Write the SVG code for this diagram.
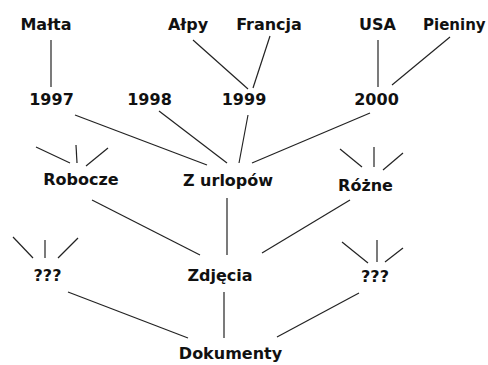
<svg xmlns="http://www.w3.org/2000/svg" width="488" height="365" viewBox="0 0 488 365">
<style>
text{font-family:"DejaVu Sans",Verdana,sans-serif;font-weight:bold;font-size:16px;fill:#111;text-anchor:middle}
.c line{stroke:#222;stroke-width:1.2}
</style>
<rect width="488" height="365" fill="#fff"/>
<g class="c" id="connectors">
<line x1="51" y1="40" x2="51" y2="87"/>
<line x1="193" y1="40" x2="248" y2="89"/>
<line x1="270" y1="36" x2="253" y2="88"/>
<line x1="378" y1="40" x2="378" y2="87"/>
<line x1="450" y1="37" x2="392" y2="85"/>
<line x1="75" y1="115" x2="207" y2="165"/>
<line x1="159" y1="111" x2="227" y2="163"/>
<line x1="248" y1="115" x2="239" y2="163"/>
<line x1="370" y1="113" x2="252" y2="163"/>
<line x1="36" y1="147" x2="70" y2="163"/>
<line x1="76" y1="145" x2="77" y2="163"/>
<line x1="108" y1="148" x2="86" y2="166"/>
<line x1="340" y1="149" x2="362" y2="167"/>
<line x1="374" y1="147" x2="374" y2="167"/>
<line x1="403" y1="153" x2="383" y2="170"/>
<line x1="92" y1="200" x2="200" y2="255"/>
<line x1="227" y1="198" x2="227" y2="255"/>
<line x1="350" y1="200" x2="262" y2="253"/>
<line x1="13" y1="237" x2="33" y2="258"/>
<line x1="45" y1="240" x2="45" y2="258"/>
<line x1="78" y1="238" x2="58" y2="258"/>
<line x1="342" y1="242" x2="368" y2="263"/>
<line x1="377" y1="240" x2="377" y2="262"/>
<line x1="403" y1="248" x2="385" y2="262"/>
<line x1="68" y1="292" x2="188" y2="338"/>
<line x1="224" y1="292" x2="224" y2="338"/>
<line x1="359" y1="293" x2="277" y2="337"/>
</g>
<g id="malta"><text x="46" y="30">Małta</text></g>
<g id="alpy"><text x="188" y="30">Ałpy</text></g>
<g id="francja"><text x="269" y="30">Francja</text></g>
<g id="usa"><text x="377.5" y="30">USA</text></g>
<g id="pieniny"><text x="423" y="30" style="text-anchor:start;font-size:15px">Pieniny</text></g>
<g id="y1997"><text x="51.5" y="105">1997</text></g>
<g id="y1998"><text x="149.5" y="105">1998</text></g>
<g id="y1999"><text x="244" y="105">1999</text></g>
<g id="y2000"><text x="376.5" y="105">2000</text></g>
<g id="robocze"><text x="81" y="185">Robocze</text></g>
<g id="zurlopow"><text x="228" y="186">Z urlopów</text></g>
<g id="rozne"><text x="365.5" y="191">Różne</text></g>
<g id="q1"><text x="47.5" y="281">???</text></g>
<g id="zdjecia"><text x="220" y="281">Zdjęcia</text></g>
<g id="q2"><text x="375" y="282">???</text></g>
<g id="dokumenty"><text x="230.5" y="359">Dokumenty</text></g>
</svg>
